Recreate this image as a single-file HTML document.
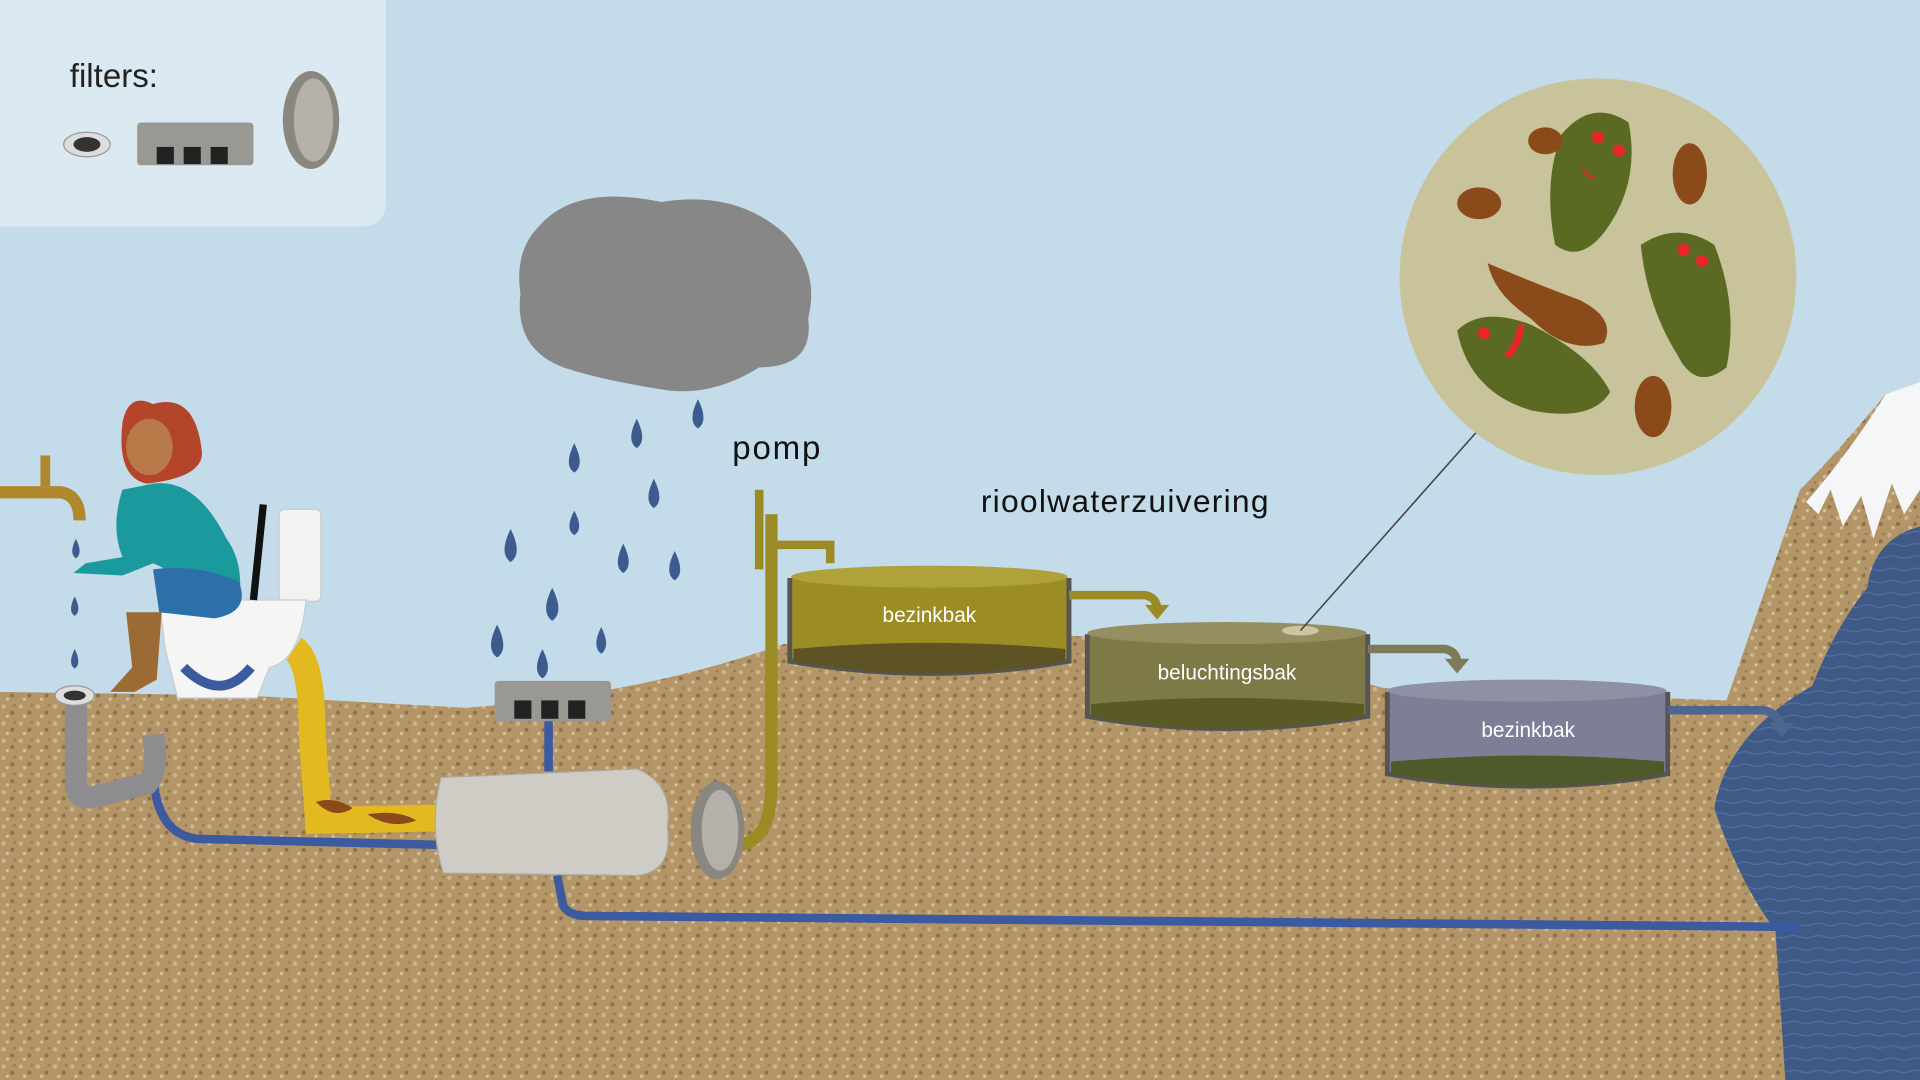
<!DOCTYPE html>
<html><head><meta charset="utf-8"><style>
html,body{margin:0;padding:0;width:1920px;height:1080px;overflow:hidden;background:#c4dce9}
svg{display:block}
text{font-family:"Liberation Sans",sans-serif}
</style></head><body>
<svg width="1920" height="1080" viewBox="0 0 1568 882" preserveAspectRatio="none">
<defs>
<pattern id="sand" width="14" height="14" patternUnits="userSpaceOnUse">
<rect width="14" height="14" fill="#b39567"/>
<circle cx="3" cy="3" r="1.8" fill="#cdb48a"/><circle cx="10" cy="8" r="1.6" fill="#8a704b"/>
<circle cx="6" cy="11" r="1.3" fill="#d8c29c"/><circle cx="12" cy="2" r="1.1" fill="#977b53"/>
</pattern>
<pattern id="sea" width="20" height="10" patternUnits="userSpaceOnUse">
<rect width="20" height="10" fill="#3f5a86"/><path d="M0 5 Q5 3 10 5 T20 5" stroke="#5570a0" fill="none" stroke-width="1"/>
</pattern>
</defs>
<rect width="1568" height="882" fill="#c4dce9"/>
<path d="M0 0 H315 V165 Q315 185 295 185 H0Z" fill="#dbe9f2"/>
<text x="57" y="71" font-size="27" fill="#222">filters:</text>
<ellipse cx="71" cy="118" rx="19" ry="10" fill="#ddd" stroke="#999"/><ellipse cx="71" cy="118" rx="11" ry="6" fill="#333"/>
<rect x="112" y="100" width="95" height="35" rx="3" fill="#9a9892"/>
<rect x="128" y="120" width="14" height="14" fill="#222"/><rect x="150" y="120" width="14" height="14" fill="#222"/><rect x="172" y="120" width="14" height="14" fill="#222"/>
<ellipse cx="254" cy="98" rx="23" ry="40" fill="#8a8680"/><ellipse cx="256" cy="98" rx="16" ry="34" fill="#b5b1aa"/>
<path d="M0 565 L200 568 L380 578 Q520 568 640 526 Q760 515 900 520 Q1020 530 1130 562 L1410 572 L1470 400 Q1500 370 1540 322 L1568 312 V882 H0Z" fill="url(#sand)"/>
<path d="M1475 410 Q1510 370 1540 322 L1568 312 V400 L1555 420 L1545 395 L1530 440 L1520 405 L1505 430 L1495 400 L1485 420Z" fill="#f4f6f8"/>
<path d="M1568 430 Q1530 440 1525 480 Q1500 510 1480 560 Q1410 600 1400 660 Q1420 720 1450 760 L1458 882 H1568Z" fill="url(#sea)"/>
<path d="M440 185 Q470 150 540 165 Q600 155 640 190 Q670 220 660 260 Q665 300 620 300 Q580 325 540 318 Q490 310 460 300 Q420 285 425 240 Q420 205 440 185Z" fill="#878787"/>
<g fill="#3d5b8f">
<path d="M570 326 q-9 18 0 24 q9 -6 0 -24z"/><path d="M520 342 q-9 18 0 24 q9 -6 0 -24z"/><path d="M469 362 q-9 18 0 24 q9 -6 0 -24z"/>
<path d="M534 391 q-9 18 0 24 q9 -6 0 -24z"/><path d="M469 417 q-8 15 0 20 q8 -5 0 -20z"/><path d="M417 432 q-10 20 0 27 q10 -7 0 -27z"/>
<path d="M509 444 q-9 18 0 24 q9 -6 0 -24z"/><path d="M551 450 q-9 18 0 24 q9 -6 0 -24z"/><path d="M451 480 q-10 20 0 27 q10 -7 0 -27z"/>
<path d="M406 510 q-10 20 0 27 q10 -7 0 -27z"/><path d="M491 512 q-8 16 0 22 q8 -6 0 -22z"/><path d="M443 530 q-9 18 0 24 q9 -6 0 -24z"/>
<path d="M62 440 q-6 12 0 16 q6 -4 0 -16z"/><path d="M61 487 q-6 12 0 16 q6 -4 0 -16z"/><path d="M61 530 q-6 12 0 16 q6 -4 0 -16z"/>
</g>
<path d="M125 625 Q125 680 160 685 L360 690" stroke="#3c5aa0" stroke-width="7" fill="none"/>
<path d="M240 530 Q255 540 255 600 L260 670 L360 668" stroke="#e2b91e" stroke-width="22" fill="none"/>
<path d="M448 585 V630" stroke="#3c5aa0" stroke-width="7"/>
<path d="M455 715 L460 740 Q465 748 480 748 L1470 757" stroke="#3c5aa0" stroke-width="7" fill="none"/>
<path d="M1462 752 l12 5 l-12 5z" fill="#3c5aa0"/>
<path d="M600 690 Q630 690 630 640 V420" stroke="#9b8b24" stroke-width="10" fill="none"/>
<path d="M620 400 V465 M630 445 H678 V460" stroke="#9b8b24" stroke-width="7" fill="none"/>
<path d="M62 570 V640 Q62 655 80 650 L120 640 Q130 630 125 600" stroke="#8d8d90" stroke-width="18" fill="none"/>
<ellipse cx="61" cy="568" rx="16" ry="8" fill="#ddd" stroke="#999"/><ellipse cx="61" cy="568" rx="9" ry="4" fill="#333"/>
<path d="M360 635 L520 628 Q550 640 545 675 Q550 712 520 715 L362 713 Q350 675 360 635Z" fill="#cfccc5" stroke="#aaa"/>
<ellipse cx="586" cy="678" rx="22" ry="40" fill="#8a8680"/><ellipse cx="588" cy="678" rx="15" ry="33" fill="#b5b1aa"/>
<path d="M258 655 q15 -5 30 5 q-15 10 -30 -5z M300 665 q25 -4 40 5 q-20 8 -40 -5z" fill="#8b4a1a"/>
<rect x="404" y="556" width="95" height="33" rx="3" fill="#9a9892"/>
<rect x="420" y="572" width="14" height="15" fill="#222"/><rect x="442" y="572" width="14" height="15" fill="#222"/><rect x="464" y="572" width="14" height="15" fill="#222"/>
<path d="M0 402 H50 Q65 405 65 425" stroke="#b0882c" stroke-width="10" fill="none"/><rect x="33" y="372" width="8" height="25" fill="#b0882c"/>
<rect x="228" y="416" width="34" height="75" rx="4" fill="#f2f2f2" stroke="#ccc"/>
<path d="M130 490 H250 Q245 540 220 545 L210 570 H145 L135 530Z" fill="#f5f5f5" stroke="#ccc"/>
<path d="M150 545 Q180 575 205 545" stroke="#3c5aa0" stroke-width="8" fill="none"/>
<path d="M215 412 L207 490" stroke="#111" stroke-width="6"/>
<path d="M125 330 Q105 320 100 345 Q95 390 120 395 Q165 390 165 370 Q160 320 125 330Z" fill="#b4442a"/>
<ellipse cx="122" cy="365" rx="19" ry="23" fill="#b87a48"/>
<path d="M100 400 Q90 430 100 455 L70 460 L60 468 L100 470 L125 460 Q150 470 160 490 L195 495 Q200 460 185 440 Q160 390 125 395Z" fill="#1a9a9c"/>
<path d="M125 465 Q160 460 195 475 Q205 500 175 505 L130 500Z" fill="#2d6fa8"/>
<path d="M103 500 L132 500 L128 555 L110 565 L90 565 L108 545Z" fill="#9b6a35"/>
<text x="598" y="375" font-size="27" fill="#111" textLength="72">pomp</text>
<text x="801" y="418" font-size="26" fill="#111" textLength="235">rioolwaterzuivering</text>
<g stroke="#555" stroke-width="4">
<path d="M645 472 V540 Q760 560 873 540 V472" fill="#9c8c24"/>
<path d="M888 518 V585 Q1000 605 1117 585 V518" fill="#7d7a48"/>
<path d="M1133 565 V632 Q1250 652 1362 632 V565" fill="#7c7f95"/>
</g>
<ellipse cx="759" cy="471" rx="113" ry="9" fill="#b0a23a"/>
<ellipse cx="1002" cy="517" rx="114" ry="9" fill="#948e60"/>
<ellipse cx="1247" cy="564" rx="114" ry="9" fill="#8e90a4"/>
<path d="M648 530 Q760 520 870 530 V540 Q760 560 648 540Z" fill="#5d5325"/>
<path d="M891 575 Q1000 565 1114 575 V585 Q1000 605 891 585Z" fill="#5a5a25"/>
<path d="M1136 622 Q1250 612 1359 622 V632 Q1250 652 1136 632Z" fill="#4f5a2a"/>
<text x="759" y="508" font-size="17" fill="#fff" text-anchor="middle">bezinkbak</text>
<text x="1002" y="555" font-size="17" fill="#fff" text-anchor="middle">beluchtingsbak</text>
<text x="1248" y="602" font-size="17" fill="#fff" text-anchor="middle">bezinkbak</text>
<g stroke-width="7" fill="none">
<path d="M873 486 H935 Q945 488 945 498" stroke="#9b8b24"/>
<path d="M1117 530 H1180 Q1190 532 1190 542" stroke="#7d7a5a"/>
<path d="M1362 580 H1440 Q1452 582 1455 595" stroke="#4d6690"/>
</g>
<path d="M935 494 l20 0 l-10 12z" fill="#9b8b24"/><path d="M1180 538 l20 0 l-10 12z" fill="#7d7a5a"/><path d="M1445 590 l20 0 l-10 12z" fill="#4d6690"/>
<ellipse cx="1062" cy="515" rx="15" ry="4" fill="#cfc4a0"/>
<line x1="1062" y1="515" x2="1211" y2="347" stroke="#444" stroke-width="1.3"/>
<circle cx="1305" cy="226" r="162" fill="#c9c39b"/>
<g fill="#5a6a22">
<path d="M1275 110 Q1300 80 1330 100 Q1340 150 1310 190 Q1290 215 1270 200 Q1260 150 1275 110Z"/>
<path d="M1340 200 Q1370 180 1400 200 Q1420 250 1410 300 Q1385 320 1370 290 Q1345 250 1340 200Z"/>
<path d="M1190 270 Q1210 250 1250 265 Q1300 290 1315 320 Q1300 345 1250 335 Q1200 320 1190 270Z"/>
</g>
<g fill="#8b4a1a">
<ellipse cx="1262" cy="115" rx="14" ry="11"/><ellipse cx="1208" cy="166" rx="18" ry="13"/><ellipse cx="1380" cy="142" rx="14" ry="25"/>
<path d="M1215 215 Q1250 230 1290 245 Q1320 260 1310 280 Q1280 290 1250 260 Q1220 240 1215 215Z"/>
<ellipse cx="1350" cy="332" rx="15" ry="25"/>
</g>
<g fill="#e8252a"><circle cx="1305" cy="112" r="5"/><circle cx="1322" cy="123" r="5"/><circle cx="1375" cy="204" r="5"/><circle cx="1390" cy="213" r="5"/><circle cx="1212" cy="272" r="5"/><path d="M1290 130 q5 15 15 15 q-10 5 -15 -15z"/><path d="M1240 265 q-5 20 -12 25 l5 3 q10 -10 12 -28z"/></g>
</svg>
</body></html>
